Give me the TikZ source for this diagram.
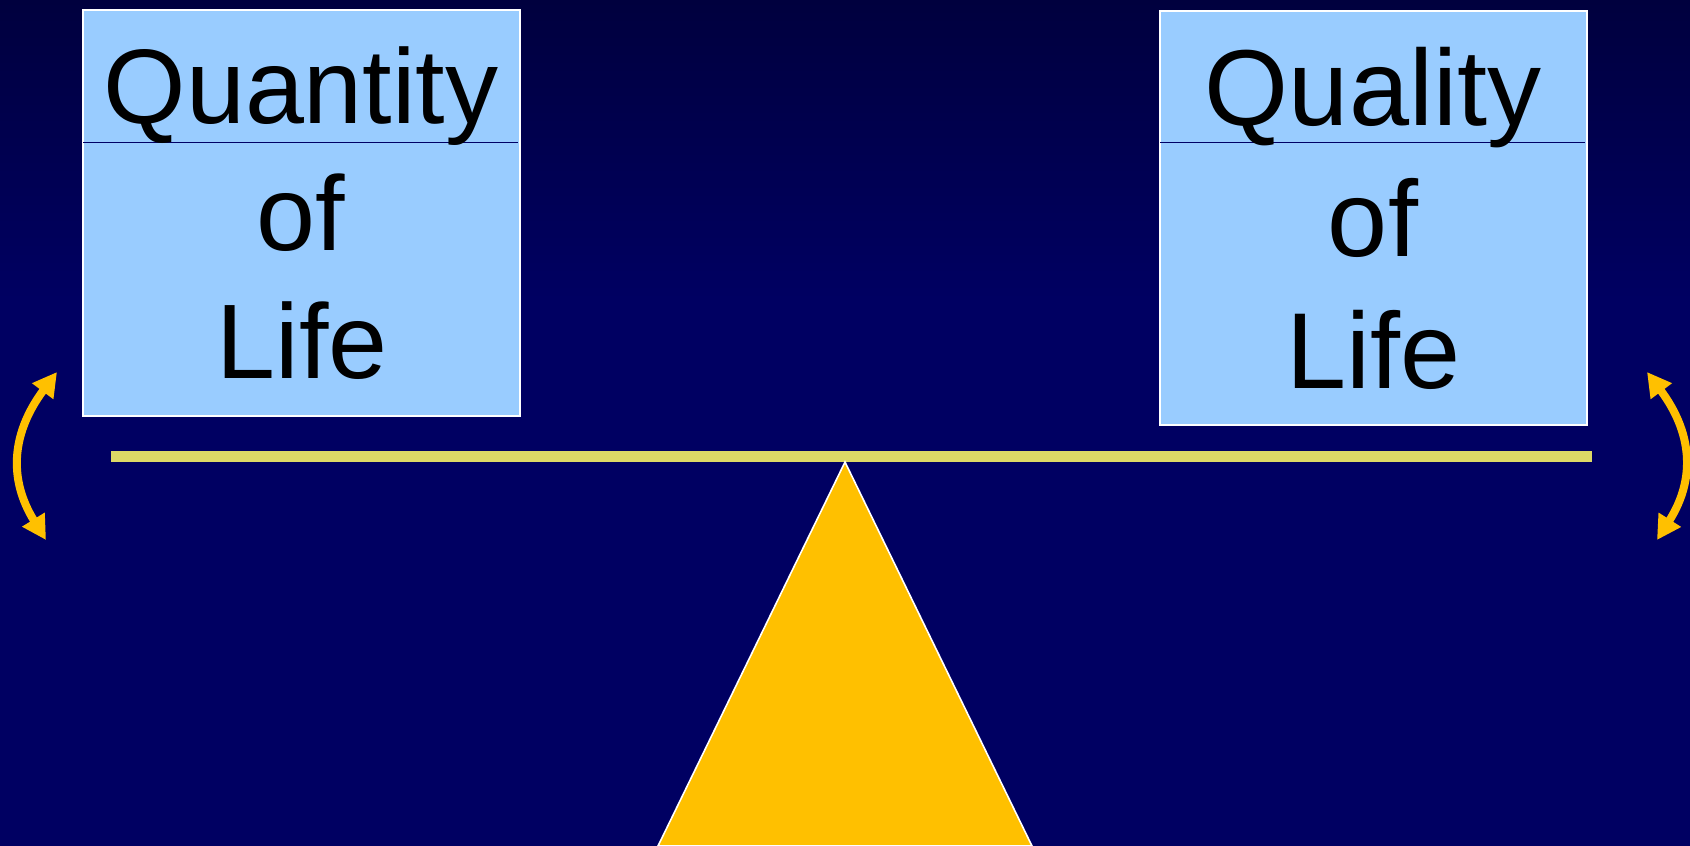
\documentclass[tikz,border=0pt]{standalone}
\usepackage{fontspec}
\setmainfont{Liberation Sans}
\usetikzlibrary{arrows.meta}
\definecolor{bgtop}{RGB}{0,0,62}
\definecolor{bgbot}{RGB}{0,0,98}
\definecolor{boxblue}{RGB}{153,204,255}
\definecolor{beamcol}{RGB}{221,217,102}
\definecolor{gold}{RGB}{255,192,0}
\definecolor{navyline}{RGB}{0,0,102}
\tikzset{
  lifebox/.style={draw=white, line width=2pt, fill=boxblue, rectangle, inner sep=0pt, anchor=north west},
  divider/.style={draw=navyline, line width=1pt},
  bigL/.style={anchor=base, inner sep=0pt, text=black, font=\fontsize{106pt}{127pt}\selectfont},
  bigR/.style={anchor=base, inner sep=0pt, text=black, font=\fontsize{108pt}{130pt}\selectfont},
  swing/.style={draw=gold, line width=8pt, {Triangle[length=24pt,width=25pt]}-{Triangle[length=24pt,width=25pt]}},
  fulcrum/.style={fill=gold, draw=white, line width=1.6pt, line join=miter},
  beam/.style={fill=beamcol}
}
\begin{document}
\begin{tikzpicture}[x=1pt,y=-1pt]
\useasboundingbox (0,0) rectangle (1690,846);
% background
\fill[top color=bgtop, bottom color=bgbot] (0,0) rectangle (1690,300);
\fill[bgbot] (0,299) rectangle (1690,846);
% boxes
\node[lifebox, minimum width=437pt, minimum height=406pt] (qty) at (82,9) {};
\node[lifebox, minimum width=427pt, minimum height=414pt] (qual) at (1159,10) {};
\coordinate (qdl) at (83,142);
\coordinate (qdr) at (518,142);
\coordinate (rdl) at (1160,142);
\coordinate (rdr) at (1585,142);
\draw[divider] (qdl) -- (qdr);
\draw[divider] (rdl) -- (rdr);
% texts
\node[bigL] (t1) at (301,123) {Quantity};
\node[bigL] (t2) at (301,250) {of};
\node[bigL] (t3) at (302,378) {Life};
\node[bigR] (u1) at (1373,125) {Quality};
\node[bigR] (u2) at (1373,256) {of};
\node[bigR] (u3) at (1374,388) {Life};
% beam
\coordinate (bl) at (111,451);
\coordinate (br) at (1592,462);
\fill[beam] (bl) rectangle (br);
% fulcrum
\coordinate (apex) at (845,462);
\coordinate (baseL) at (658,846);
\coordinate (baseR) at (1032,846);
\filldraw[fulcrum] (apex) -- (baseR) -- (baseL) -- cycle;
% swing arrows
\coordinate (la1) at (57,372);
\coordinate (la2) at (46,540);
\coordinate (ra1) at (1647,372);
\coordinate (ra2) at (1657,540);
\draw[swing] (la1) .. controls (13,431) and (7,477) .. (la2);
\draw[swing] (ra1) .. controls (1691,431) and (1697,477) .. (ra2);
\end{tikzpicture}
\end{document}
